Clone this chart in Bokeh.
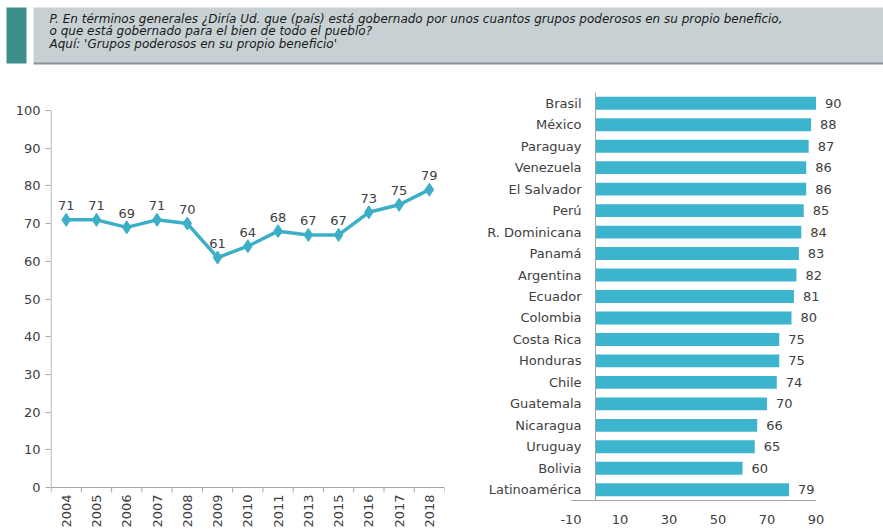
import math
from bokeh.plotting import figure
from bokeh.layouts import column, row
from bokeh.models import Range1d, FixedTicker, ColumnDataSource
from bokeh.core.properties import value
from bokeh.embed import file_html
from bokeh.resources import INLINE

# ---------------- data ----------------
header_lines = [
    "P. En términos generales ¿Diría Ud. que (país) está gobernado por unos cuantos grupos poderosos en su propio beneficio,",
    "o que está gobernado para el bien de todo el pueblo?",
    "Aquí: 'Grupos poderosos en su propio beneficio'",
]
years = ["2004", "2005", "2006", "2007", "2008", "2009", "2010", "2011",
         "2013", "2015", "2016", "2017", "2018"]
year_values = [71, 71, 69, 71, 70, 61, 64, 68, 67, 67, 73, 75, 79]
y_ticks = list(range(0, 101, 10))

countries = ["Brasil", "México", "Paraguay", "Venezuela", "El Salvador", "Perú",
             "R. Dominicana", "Panamá", "Argentina", "Ecuador", "Colombia",
             "Costa Rica", "Honduras", "Chile", "Guatemala", "Nicaragua",
             "Uruguay", "Bolivia", "Latinoamérica"]
country_values = [90, 88, 87, 86, 86, 85, 84, 83, 82, 81, 80, 75, 75, 74, 70,
                  66, 65, 60, 79]
bar_ticks = [-10, 10, 30, 50, 70, 90]

FONT = "DejaVu Sans"
TXT = "#404040"
AX = "#A6A6A6"
LINE_C = "#3CAFC6"
BAR_C = "#3CB4CE"

# ---------------- header ----------------
hdr = figure(width=883, height=68, x_range=Range1d(0, 883), y_range=Range1d(68, 0),
             output_backend="svg", toolbar_location=None, min_border=0)
hdr.axis.visible = False
hdr.grid.visible = False
hdr.outline_line_color = None
hdr.quad(left=[6], right=[26], top=[7], bottom=[63], fill_color="#3E8F87", line_color=None)
hdr.quad(left=[33], right=[883], top=[7], bottom=[63], fill_color="#C7D1D4", line_color=None)
hdr.segment(x0=[33], y0=[63], x1=[883], y1=[63], line_color="#87929A", line_width=2)
hdr.text(x=[49, 49, 49], y=[18, 30.5, 43], text=header_lines,
         text_font=value(FONT), text_font_size="12px", text_font_style="italic",
         text_color="#1A1A1A", text_baseline="middle", text_align="left")

# ---------------- line chart ----------------
xs = list(range(len(years)))
px_y = 3.77
ly_start = -(532 - 487) / px_y
ly_end = 100 + (110 - 92) / px_y
lp = figure(width=455, height=464, x_range=Range1d(-0.52, len(years) - 0.5),
            y_range=Range1d(ly_start, ly_end), output_backend="svg",
            toolbar_location=None, min_border_left=50, min_border_right=11,
            min_border_top=24, min_border_bottom=0)
lp.grid.visible = False
lp.outline_line_color = None

# axis lines drawn from data extents
lp.segment(x0=[-0.5], y0=[y_ticks[0]], x1=[-0.5], y1=[y_ticks[-1]], line_color=AX, line_width=1)
lp.segment(x0=[-0.5], y0=[0], x1=[len(years) - 0.5], y1=[0], line_color=AX, line_width=1)
bnd = [i - 0.5 for i in range(len(years) + 1)]
lp.segment(x0=bnd, y0=[0] * len(bnd), x1=bnd, y1=[-5 / px_y] * len(bnd), line_color=AX, line_width=1)

src = ColumnDataSource(dict(x=xs, y=year_values, lab=[str(v) for v in year_values],
                            yr=years, zero=[0] * len(xs)))
lp.line("x", "y", source=src, line_color=LINE_C, line_width=3.5)
lp.scatter("x", "y", source=src, marker="diamond", size=13, fill_color=LINE_C,
           line_color=LINE_C)
lp.text("x", "y", text="lab", source=src, y_offset=-14, text_align="center",
        text_baseline="alphabetic", text_font=value(FONT), text_font_size="13px",
        text_color=TXT)
lp.text("x", "zero", text="yr", source=src, angle=math.pi / 2, y_offset=7,
        text_align="right", text_baseline="middle", text_font=value(FONT),
        text_font_size="13px", text_color=TXT)

lp.xaxis.visible = False
lp.yaxis.ticker = FixedTicker(ticks=y_ticks)
lp.yaxis.major_tick_in = 0
lp.yaxis.major_tick_out = 5
lp.yaxis.minor_tick_line_color = None
lp.yaxis.axis_line_color = None
lp.yaxis.major_tick_line_color = AX
lp.yaxis.major_label_text_font = FONT
lp.yaxis.major_label_text_font_size = "13px"
lp.yaxis.major_label_text_color = TXT
lp.yaxis.major_label_standoff = 5

# ---------------- bar chart ----------------
n = len(countries)
ys = [n - 1 - i for i in range(n)]
px_x = 2.45
row_px = (500 - 92) / n
x_start = -(595 - 460) / px_x
x_end = (878 - 595) / px_x
bp = figure(width=428, height=464, x_range=Range1d(x_start, x_end),
            y_range=Range1d(-0.5 - (532 - 500) / row_px, n - 0.5), output_backend="svg",
            toolbar_location=None, min_border_left=5, min_border_right=5,
            min_border_top=24, min_border_bottom=0)
bp.grid.visible = False
bp.outline_line_color = None
bp.yaxis.visible = False
bp.xaxis.visible = False

bsrc = ColumnDataSource(dict(y=ys, v=country_values, c=countries,
                             lab=[str(v) for v in country_values],
                             zero=[0] * n))
bp.hbar(y="y", left="zero", right="v", height=0.6, source=bsrc, fill_color=BAR_C,
        line_color=None)
bp.text(x="v", y="y", text="lab", source=bsrc, x_offset=9, text_align="left",
        text_baseline="middle", text_font=value(FONT), text_font_size="13px",
        text_color=TXT)
bp.text(x="zero", y="y", text="c", source=bsrc, x_offset=-14, text_align="right",
        text_baseline="middle", text_font=value(FONT), text_font_size="13px",
        text_color=TXT)
bp.segment(x0=[0], y0=[-0.5], x1=[0], y1=[n - 0.4], line_color=AX, line_width=1)
bp.segment(x0=[bar_ticks[0]], y0=[-0.5], x1=[bar_ticks[-1]], y1=[-0.5],
           line_color=AX, line_width=1)
tsrc = ColumnDataSource(dict(x=bar_ticks, y=[-0.5] * len(bar_ticks),
                             t=[str(t) for t in bar_ticks]))
bp.text(x="x", y="y", text="t", source=tsrc, y_offset=19, text_align="center",
        text_baseline="middle", text_font=value(FONT), text_font_size="13px",
        text_color=TXT)

layout = column(hdr, row(lp, bp))
open("out.html", "w").write(file_html(layout, INLINE))
